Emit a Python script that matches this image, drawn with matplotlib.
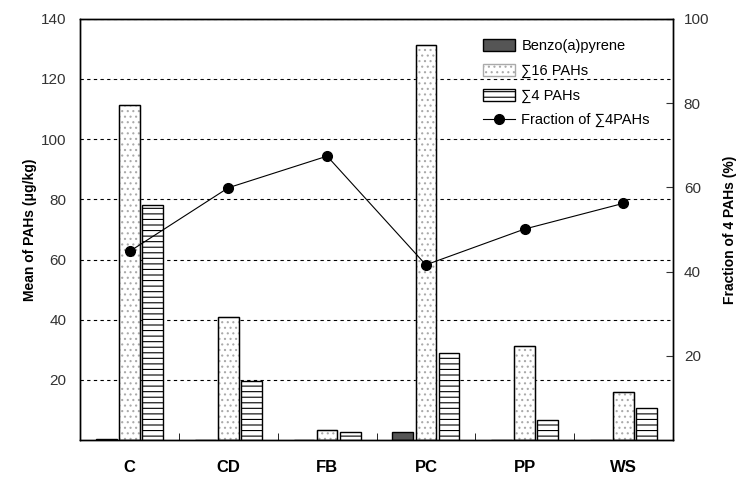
import numpy as np
import matplotlib
matplotlib.use("Agg")
import matplotlib.pyplot as plt

plt.rcParams['font.family'] = ['Liberation Sans', 'DejaVu Sans']
plt.rcParams['hatch.linewidth'] = 0.8

# data
categories = ['C', 'CD', 'FB', 'PC', 'PP', 'WS']
benzo = [0.5, 0, 0, 2.8, 0, 0]
sum16 = [111.5, 40.8, 3.4, 131.3, 31.2, 16.0]
sum4 = [78.0, 19.6, 2.7, 29.0, 6.7, 10.6]
fraction = [44.8, 59.9, 67.4, 41.6, 50.1, 56.2]

fig = plt.figure(figsize=(7.5, 4.94), dpi=100)
ax = fig.add_axes([0.107, 0.109, 0.79, 0.853])
ax2 = ax.twinx()

x = np.arange(len(categories))
w = 0.21
off = 0.235

ax.bar(x - off, benzo, w, color='#555555', edgecolor='black', linewidth=1,
       label='Benzo(a)pyrene')
ax.bar(x, sum16, w, color='white', edgecolor='#aaaaaa', hatch='...', linewidth=1,
       label='\u221116 PAHs')
ax.bar(x, sum16, w, color='none', edgecolor='black', linewidth=1)
ax.bar(x + off, sum4, w, color='white', edgecolor='black', hatch='---', linewidth=1,
       label='\u22114 PAHs')
ln, = ax2.plot(x, fraction, color='black', lw=0.8, marker='o', markersize=7,
               label='Fraction of \u22114PAHs')

ax.set_xlim(-0.5, 5.5)
ax.set_ylim(0, 140)
ax.set_yticks([20, 40, 60, 80, 100, 120, 140])
ax.set_axisbelow(True)
ax.yaxis.grid(True, linestyle=(0, (3, 3)), color='black', linewidth=0.8)
ax.tick_params(axis='y', length=0, labelsize=11, colors='#333333', pad=10)
ax.set_xticks(x)
ax.set_xticklabels(categories, fontsize=12, fontweight='bold')
ax.set_xticks(x[:-1] + 0.5, minor=True)
ax.tick_params(axis='x', which='major', length=0, pad=14)
ax.tick_params(axis='x', which='minor', direction='in', length=5)
ax.set_ylabel('Mean of PAHs (\u03bcg/kg)', fontsize=10, fontweight='bold', labelpad=3)

ax2.set_ylim(0, 100)
ax2.set_yticks([20, 40, 60, 80, 100])
ax2.tick_params(axis='y', direction='in', length=5, labelsize=11, colors='#333333', pad=8)
ax2.set_ylabel('Fraction of 4 PAHs (%)', fontsize=10, fontweight='bold', labelpad=10)

for a in (ax, ax2):
    for s in a.spines.values():
        s.set_linewidth(1)

h1, l1 = ax.get_legend_handles_labels()
fig.legend(h1 + [ln], l1 + [ln.get_label()], loc='upper left',
           bbox_to_anchor=(0.627, 0.947), frameon=False, fontsize=10.5,
           handlelength=2.2, handleheight=0.9, labelspacing=0.72,
           handletextpad=0.4)

fig.savefig('out.png', dpi=100)
